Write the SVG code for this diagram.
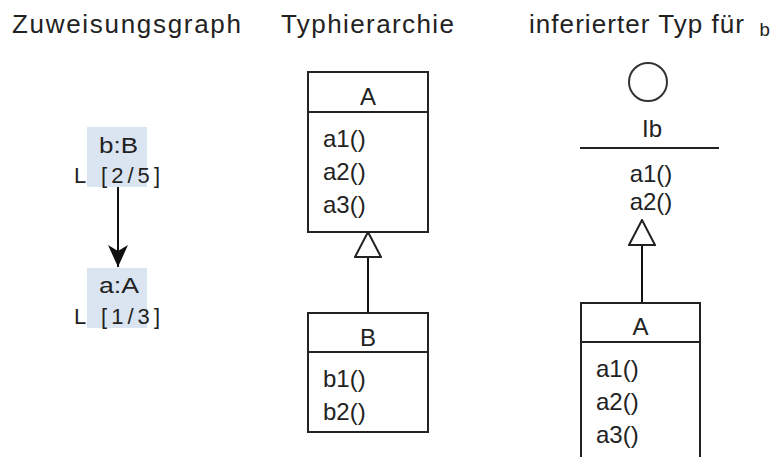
<svg xmlns="http://www.w3.org/2000/svg" width="776" height="457" viewBox="0 0 776 457">
  <style>
    .title { font-family: "Liberation Sans", Arial, sans-serif; font-size: 26px; fill: #222; }
    .lbl { font-family: "Liberation Sans", Arial, sans-serif; font-size: 22px; fill: #222; }
    .cls { font-family: "Liberation Sans", Arial, sans-serif; font-size: 24px; fill: #222; }
    .mono { font-family: "Liberation Mono", "Courier New", monospace; font-size: 19px; fill: #222; }
    .box { fill: #fff; stroke: #222; stroke-width: 2; }
    .sep { stroke: #222; stroke-width: 2; }
    .var { fill: #dbe5f1; stroke: none; }
    .edge { stroke: #111; stroke-width: 2; fill: none; }
  </style>
  <defs>
    <marker id="arrowFilled" viewBox="0 0 22 20" refX="22" refY="10" markerWidth="22" markerHeight="20" markerUnits="userSpaceOnUse" orient="auto">
      <path d="M0,0 L22,10 L0,20 L6,10 Z" fill="#111"/>
    </marker>
    <marker id="generalization" viewBox="0 0 27 28" refX="26" refY="14" markerWidth="27" markerHeight="28" markerUnits="userSpaceOnUse" orient="auto">
      <path d="M1,1 L26,14 L1,27 Z" fill="#fff" stroke="#222" stroke-width="2"/>
    </marker>
  </defs>

  <rect width="776" height="457" fill="#fff"/>

  <!-- column headings -->
  <text class="title" x="12" y="33" textLength="229" lengthAdjust="spacing">Zuweisungsgraph</text>
  <text class="title" x="281" y="33" textLength="173" lengthAdjust="spacing">Typhierarchie</text>
  <text class="title" x="529" y="33" textLength="215" lengthAdjust="spacing">inferierter Typ für</text>
  <text class="mono" x="759" y="36">b</text>

  <!-- connectors -->
  <g id="connectors">
    <line class="edge" x1="118" y1="187" x2="118" y2="267" marker-end="url(#arrowFilled)"/>
    <line class="edge" x1="368" y1="313" x2="368" y2="232" marker-end="url(#generalization)"/>
    <line class="edge" x1="642" y1="303" x2="642" y2="220" marker-end="url(#generalization)"/>
  </g>

  <!-- assignment graph -->
  <g id="var-b">
    <rect class="var" x="87" y="127" width="60" height="60"/>
    <text class="lbl" x="99" y="153" textLength="39" lengthAdjust="spacingAndGlyphs">b:B</text>
    <text class="lbl" x="74" y="183">L</text>
    <text class="lbl" x="101" y="183" textLength="59" lengthAdjust="spacing">[2/5]</text>
  </g>
  <g id="var-a">
    <rect class="var" x="87" y="268" width="60" height="60"/>
    <text class="lbl" x="99" y="293" textLength="40" lengthAdjust="spacingAndGlyphs">a:A</text>
    <text class="lbl" x="74" y="324">L</text>
    <text class="lbl" x="101" y="324" textLength="59" lengthAdjust="spacing">[1/3]</text>
  </g>

  <!-- type hierarchy -->
  <g id="class-A">
    <rect class="box" x="308" y="72" width="120" height="160"/>
    <line class="sep" x1="308" y1="112" x2="428" y2="112"/>
    <text class="cls" x="368" y="105" text-anchor="middle">A</text>
    <text class="cls" x="323" y="147">a1()</text>
    <text class="cls" x="323" y="180">a2()</text>
    <text class="cls" x="323" y="213">a3()</text>
  </g>
  <g id="class-B">
    <rect class="box" x="308" y="313" width="120" height="119"/>
    <line class="sep" x1="308" y1="352" x2="428" y2="352"/>
    <text class="cls" x="368" y="346" text-anchor="middle">B</text>
    <text class="cls" x="323" y="387">b1()</text>
    <text class="cls" x="323" y="420">b2()</text>
  </g>

  <!-- inferred interface type -->
  <g id="interface-Ib">
    <circle cx="648" cy="82" r="19" fill="#fff" stroke="#333" stroke-width="2"/>
    <text class="cls" x="652" y="137" text-anchor="middle">Ib</text>
    <line class="sep" x1="580" y1="148" x2="719" y2="148"/>
    <text class="cls" x="651" y="182" text-anchor="middle">a1()</text>
    <text class="cls" x="651" y="210" text-anchor="middle">a2()</text>
  </g>
  <g id="class-A-impl">
    <rect class="box" x="581" y="303" width="119" height="170"/>
    <line class="sep" x1="581" y1="342" x2="700" y2="342"/>
    <text class="cls" x="640.5" y="335" text-anchor="middle">A</text>
    <text class="cls" x="596" y="377">a1()</text>
    <text class="cls" x="596" y="410">a2()</text>
    <text class="cls" x="596" y="443">a3()</text>
  </g>
</svg>
